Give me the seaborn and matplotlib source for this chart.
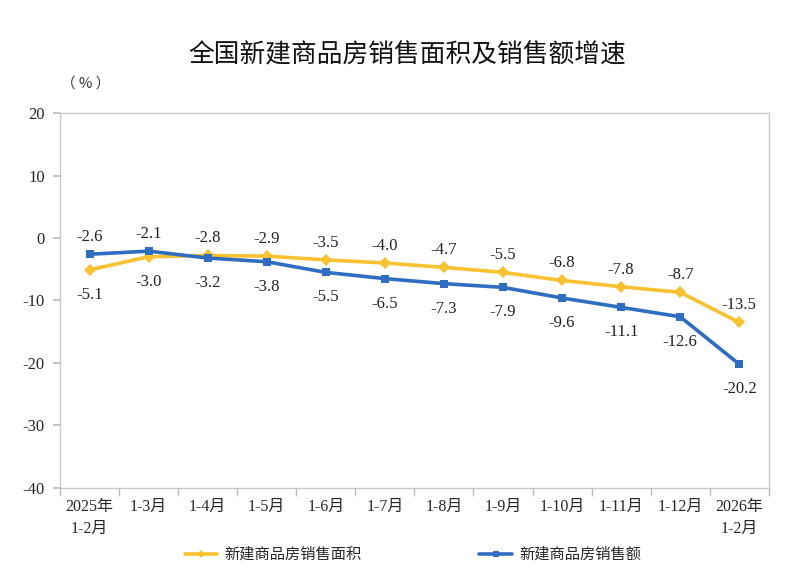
import numpy as np
import pandas as pd
import matplotlib
matplotlib.use('Agg')
import matplotlib.pyplot as plt
import seaborn as sns

# data
months = ['2025年\n1-2月', '1-3月', '1-4月', '1-5月', '1-6月', '1-7月',
          '1-8月', '1-9月', '1-10月', '1-11月', '1-12月', '2026年\n1-2月']
area_growth = [-5.1, -3.0, -2.8, -2.9, -3.5, -4.0, -4.7, -5.5, -6.8, -7.8, -8.7, -13.5]
sales_growth = [-2.6, -2.1, -3.2, -3.8, -5.5, -6.5, -7.3, -7.9, -9.6, -11.1, -12.6, -20.2]
area_name = '新建商品房销售面积'
sales_name = '新建商品房销售额'

yellow = '#F7C130'
blue = '#2F6DC0'

sns.set_theme(style='white')
plt.rcParams['font.family'] = ['Liberation Serif', 'Noto Sans CJK SC', 'DejaVu Sans']
plt.rcParams['axes.unicode_minus'] = False

df = pd.DataFrame({'pos': np.arange(len(months)),
                   area_name: area_growth,
                   sales_name: sales_growth})

fig = plt.figure(figsize=(8, 5.84), dpi=100)
ax = fig.add_axes([0.075, 0.1644, 0.886, 0.6421])

sns.lineplot(data=df, x='pos', y=area_name, ax=ax, color=yellow, linewidth=2.6,
             marker='D', markersize=6, markeredgewidth=0, label=area_name)
sns.lineplot(data=df, x='pos', y=sales_name, ax=ax, color=blue, linewidth=2.6,
             marker='s', markersize=6, markeredgewidth=0, label=sales_name)

# value labels: higher point above, lower point below
for i in range(len(months)):
    a, s = area_growth[i], sales_growth[i]
    hi, lo = (a, s) if a >= s else (s, a)
    ax.annotate(f'{hi:.1f}', (i, hi), xytext=(0, 17), textcoords='offset pixels',
                ha='center', va='center', fontsize=12, color='#222222')
    ax.annotate(f'{lo:.1f}', (i, lo), xytext=(0, -25), textcoords='offset pixels',
                ha='center', va='center', fontsize=12, color='#222222')

ax.set_xlim(-0.5, len(months) - 0.5)
ax.set_ylim(-40, 20)
ax.set_yticks(range(-40, 21, 10))
ax.set_xticks(df['pos'])
ax.set_xticklabels(months, fontsize=11.5, linespacing=1.5)
ax.set_xticks(np.arange(-0.5, len(months), 1), minor=True)
ax.tick_params(axis='x', which='major', length=0, pad=8)
ax.tick_params(axis='x', which='minor', length=6, color='#BBBBBB', bottom=True)
ax.tick_params(axis='y', length=5, color='#BBBBBB', left=True, labelsize=12, pad=6)
ax.set_xlabel('')
ax.set_ylabel('')
for sp in ax.spines.values():
    sp.set_color('#C8C8C8')
    sp.set_linewidth(1)

fig.text(0.107, 0.857, '（ % ）', fontsize=10.5, ha='center', va='center',
         family=['Noto Sans CJK SC', 'DejaVu Sans'], color='#333333')
fig.text(0.509, 0.906, '全国新建商品房销售面积及销售额增速', fontsize=18.5,
         ha='center', va='center', family=['Noto Sans CJK SC', 'DejaVu Sans'],
         weight='medium', color='#111111')

ax.get_legend().remove()
fig.legend(*ax.get_legend_handles_labels(), loc='center',
           bbox_to_anchor=(0.516, 0.05), ncol=2, frameon=False,
           fontsize=11, columnspacing=7.7, handlelength=2.15, handletextpad=0.45,
           markerscale=0.75)

fig.savefig('out.png', dpi=100)
